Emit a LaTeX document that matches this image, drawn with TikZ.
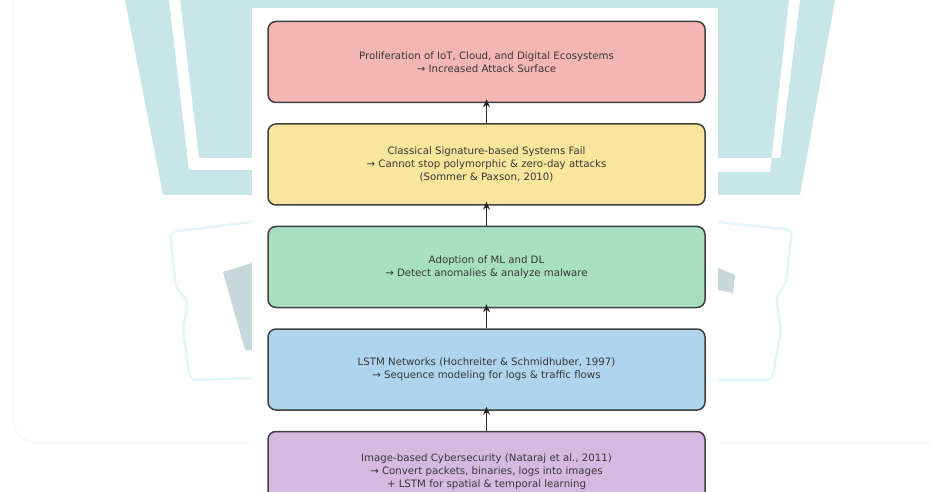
\documentclass[tikz,border=0pt]{standalone}
\usepackage{fontspec}
\setmainfont{DejaVu Sans}
\usetikzlibrary{positioning,arrows.meta}

\definecolor{wmteal}{HTML}{C8E6E8}
\definecolor{wmgray}{HTML}{C6D8D9}
\definecolor{wmcyan}{HTML}{E0F6F9}
\definecolor{stagered}{HTML}{F4B6B2}
\definecolor{stageyellow}{HTML}{F9E59C}
\definecolor{stagegreen}{HTML}{A8DFBE}
\definecolor{stageblue}{HTML}{AED4EE}
\definecolor{stagepurple}{HTML}{D6B9E1}

\begin{document}
\begin{tikzpicture}[x=1pt, y=1pt,
        every node/.style={font=\fontsize{10.2}{13}\selectfont, text=black!78},
        stage/.style={rectangle, rounded corners=8pt, draw=black!75, line width=1.5pt,
            minimum width=437pt, minimum height=81pt, align=center},
        arrow/.style={-{Stealth[length=8pt, width=7pt]}, line width=1.6pt, black!85, shorten >=-4pt}
    ]
    \useasboundingbox (0,0) rectangle (930,-492);
    \clip (0,0) rectangle (930,-492);
    % faded logo behind the panel
    \draw[black!4, line width=1pt, rounded corners=25pt] (13,0) -- (13,-443) -- (940,-443);
    \fill[wmteal] (125,0) -- (835,0) -- (800,-195) -- (163,-195) -- cycle;
    \fill[white] (169,0) -- (180,0) -- (199,-158) -- (252,-158) -- (252,-170) -- (189,-170) -- cycle;
    \fill[white] (789,0) -- (800,0) -- (780,-158) -- (718,-158) -- (718,-172) -- (770,-172) -- cycle;
    \draw[wmcyan, line width=2.5pt, rounded corners=6pt] (252,-222) -- (170,-232) -- (176,-288) -- (188,-300) -- (183,-330) -- (190,-380) -- (252,-378);
    \draw[wmcyan, line width=2.5pt, rounded corners=6pt] (718,-222) -- (792,-230) -- (786,-283) -- (776,-298) -- (781,-330) -- (772,-380) -- (718,-380);
    \fill[wmgray] (223,-272) -- (252,-263) -- (252,-350) -- (245,-350) -- cycle;
    \fill[wmgray] (718,-268) -- (735,-275) -- (733,-293) -- (718,-290) -- cycle;
    \fill[white] (252,-8) rectangle (718,-492);

    % stages
    \node[stage, fill=stagered] (proliferation) at (486.5,-62)
        {Proliferation of IoT, Cloud, and Digital Ecosystems\\→ Increased Attack Surface};
    \node[stage, fill=stageyellow, below=20pt of proliferation] (signature)
        {Classical Signature-based Systems Fail\\→ Cannot stop polymorphic \& zero-day attacks\\(Sommer \& Paxson, 2010)};
    \node[stage, fill=stagegreen, below=20pt of signature] (adoption)
        {Adoption of ML and DL\\→ Detect anomalies \& analyze malware};
    \node[stage, fill=stageblue, below=20pt of adoption] (lstm)
        {LSTM Networks (Hochreiter \& Schmidhuber, 1997)\\→ Sequence modeling for logs \& traffic flows};
    \node[stage, fill=stagepurple, below=20pt of lstm] (imagebased)
        {Image-based Cybersecurity (Nataraj et al., 2011)\\→ Convert packets, binaries, logs into images\\+ LSTM for spatial \& temporal learning};

    \draw[arrow] (signature) -- (proliferation);
    \draw[arrow] (adoption) -- (signature);
    \draw[arrow] (lstm) -- (adoption);
    \draw[arrow] (imagebased) -- (lstm);
\end{tikzpicture}
\end{document}
